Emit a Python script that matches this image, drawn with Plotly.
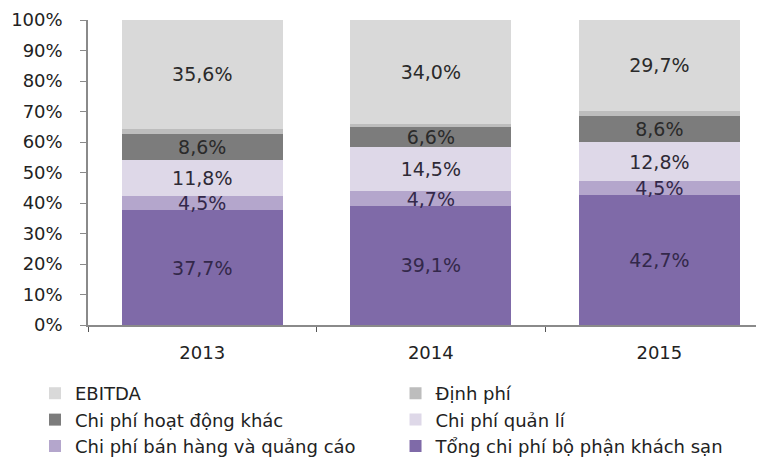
import plotly.graph_objects as go

years = ["2013", "2014", "2015"]

# bottom to top of each bar
series_names = [
    "Tổng chi phí bộ phận khách sạn",
    "Chi phí bán hàng và quảng cáo",
    "Chi phí quản lí",
    "Chi phí hoạt động khác",
    "Định phí",
    "EBITDA",
]
tong_chi_phi = [37.7, 39.1, 42.7]
ban_hang = [4.5, 4.7, 4.5]
quan_li = [11.8, 14.5, 12.8]
hoat_dong_khac = [8.6, 6.6, 8.6]
dinh_phi = [1.8, 1.1, 1.7]
ebitda = [35.6, 34.0, 29.7]

colours = ["#7f6aa8", "#b4a6cc", "#ded8e8", "#7c7c7c", "#bdbdbd", "#d9d9d9"]
text_colours = ["#33284a", "#33284a", "#2e2a36", "#2a2a2a", "#2a2a2a", "#2a2a2a"]
show_text = [True, True, True, True, False, True]
# two legend columns, like the original
legend_ids = ["legend2", "legend", "legend2", "legend", "legend2", "legend"]

all_values = [tong_chi_phi, ban_hang, quan_li, hoat_dong_khac, dinh_phi, ebitda]
FONT = "DejaVu Sans, Verdana, sans-serif"

fig = go.Figure()
for name, vals, col, tcol, st, lg in zip(series_names, all_values, colours,
                                         text_colours, show_text, legend_ids):
    fig.add_trace(go.Bar(
        x=years,
        y=vals,
        name=name,
        legend=lg,
        marker=dict(color=col, line=dict(width=0)),
        text=[(f"{v:.1f}%".replace(".", ",") if st else "") for v in vals],
        textposition="inside",
        insidetextanchor="middle",
        constraintext="none",
        textfont=dict(size=19, color=tcol, family=FONT),
        width=0.705,
        hoverinfo="skip",
    ))

legend_style = dict(
    orientation="v",
    traceorder="reversed",
    xanchor="left",
    y=-0.164, yanchor="top",
    font=dict(size=18, color="#222222", family=FONT),
    bgcolor="rgba(0,0,0,0)",
)

# page body adds an 8px offset, margins take that into account
fig.update_layout(
    barmode="stack",
    width=764,
    height=460,
    margin=dict(l=80, r=0, t=12, b=143, autoexpand=False),
    paper_bgcolor="white",
    plot_bgcolor="white",
    font=dict(family=FONT, size=18, color="#222222"),
    legend=dict(x=-0.0775, **legend_style),
    legend2=dict(x=0.4496, **legend_style),
)

fig.update_xaxes(
    type="category",
    range=[-0.5, 2.493],
    showline=True, linecolor="#8a8a8a", linewidth=1.5,
    ticks="outside", tickson="boundaries", ticklen=5, tickcolor="#555555",
    ticklabelstandoff=11,
    showgrid=False, automargin=False,
    tickfont=dict(size=18, color="#222222"),
)
fig.update_yaxes(
    range=[0, 100],
    tickvals=[0, 10, 20, 30, 40, 50, 60, 70, 80, 90, 100],
    ticktext=[f"{v}%" for v in range(0, 101, 10)],
    showline=True, linecolor="#8a8a8a", linewidth=1.5,
    ticks="outside", ticklen=6, tickcolor="#8a8a8a",
    ticklabelstandoff=14,
    showgrid=False, zeroline=False, automargin=False,
    tickfont=dict(size=18, color="#222222"),
)

fig.write_html("out.html")
